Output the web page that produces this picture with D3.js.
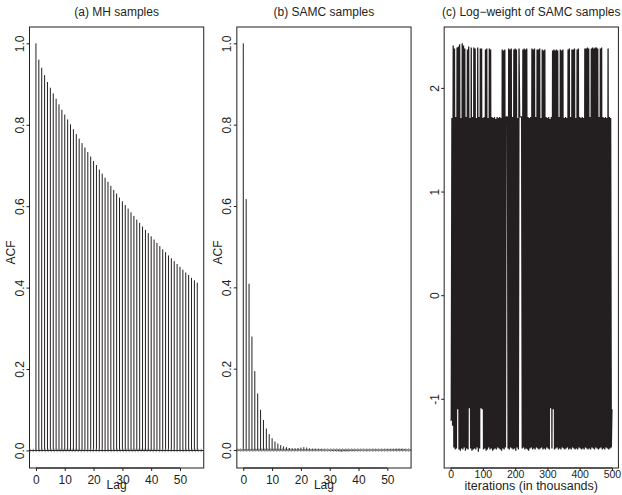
<!DOCTYPE html>
<html>
<head>
<meta charset="utf-8">
<script src="https://cdn.jsdelivr.net/npm/d3@7"></script>
<style>
  body { margin: 0; background: #fff; }
  svg { display: block; }
  text { font-family: "Liberation Sans", Arial, sans-serif; fill: #231f20; }
</style>
</head>
<body>
<svg id="chart" width="622" height="495"></svg>
<script>
// autocorrelations, lag 0..56
const mhAcf = [
  1.000, 0.960, 0.940, 0.922, 0.905, 0.891, 0.877, 0.864, 0.850, 0.837,
  0.825, 0.813, 0.801, 0.789, 0.777, 0.766, 0.755, 0.744, 0.733, 0.722,
  0.711, 0.701, 0.690, 0.680, 0.670, 0.660, 0.650, 0.640, 0.631, 0.621,
  0.612, 0.603, 0.594, 0.585, 0.576, 0.567, 0.559, 0.550, 0.542, 0.534,
  0.526, 0.518, 0.510, 0.502, 0.494, 0.487, 0.479, 0.472, 0.465, 0.458,
  0.451, 0.444, 0.437, 0.431, 0.424, 0.418, 0.412
];
const samcAcf = [
  1.000, 0.617, 0.409, 0.279, 0.194, 0.139, 0.099, 0.074, 0.053, 0.039,
  0.029, 0.021, 0.016, 0.012, 0.009, 0.007, 0.005, 0.004, 0.004, 0.005,
  0.006, 0.007, 0.006, 0.004, 0.003, 0.003, 0.002, 0.002, 0.001, 0.000,
  -0.001, -0.002, -0.002, -0.003, -0.004, -0.003, -0.003, -0.002, -0.002, -0.001,
  -0.001, 0.000, 0.000, -0.001, 0.000, 0.001, 0.001, 0.000, 0.001, 0.001,
  0.002, 0.002, 0.002, 0.003, 0.003, 0.003, 0.002
];
const ciLevel = 0.003;

// log-weight trace, one value every 2 thousand iterations (0..500)
const iterStep = 2;
const logWeight = [
  -1.21, -1.20, 1.71, -1.26, 2.41, -1.47, 2.38, -1.49, 1.72, -1.48,
  2.39, -1.10, 2.40, -1.49, 2.42, -1.50, 1.71, -1.48, 2.43, -1.49,
  2.41, -1.47, 2.38, -1.50, 1.72, -1.48, 2.37, -1.49, 2.40, -1.09,
  1.71, -1.48, 2.39, -1.50, 1.72, -1.49, 2.39, -1.48, 2.38, -1.49,
  1.71, -1.47, 2.39, -1.51, 1.72, -1.48, 2.38, -1.09, 2.38, -1.10,
  1.71, -1.49, 1.72, -1.48, 2.37, -1.50, 2.38, -1.49, 1.71, -1.47,
  2.38, -1.49, 2.37, -1.48, 1.72, -1.50, 1.71, -1.49, 1.72, -1.48,
  1.70, -1.49, 1.72, -1.47, 1.71, -1.48, 1.72, -1.49, 1.71, -1.50,
  2.37, -1.48, 2.36, -1.49, 2.37, -1.47, 1.72, 1.72, 1.72, -1.48,
  2.38, -1.49, 2.37, -1.47, 2.38, -1.48, 1.72, -1.49, 2.37, -1.48,
  2.38, -1.50, 2.37, -1.47, 1.71, -1.49, 2.38, 1.72, 1.72, 1.72,
  1.72, -1.48, 2.37, -1.47, 2.38, -1.49, 2.37, -1.48, 2.38, -1.49,
  1.72, -1.50, 1.71, -1.48, 1.72, -1.47, 2.38, -1.49, 2.37, -1.48,
  2.38, -1.49, 1.72, -1.47, 2.37, -1.48, 2.37, -1.49, 2.38, -1.48,
  1.71, -1.47, 2.37, -1.49, 2.36, -1.48, 2.37, -1.49, 1.72, -1.47,
  1.71, -1.48, 1.72, -1.49, 1.70, -1.09, 1.72, -1.48, 2.36, -1.10,
  2.37, -1.49, 2.36, -1.48, 2.37, -1.47, 2.36, -1.49, 1.72, -1.48,
  2.37, -1.49, 2.36, -1.47, 2.37, -1.48, 1.71, -1.49, 1.72, -1.48,
  1.71, -1.47, 2.37, -1.49, 2.38, -1.48, 1.72, -1.49, 2.37, -1.47,
  2.37, -1.48, 2.38, -1.49, 1.71, -1.48, 2.37, -1.49, 2.38, -1.47,
  1.72, -1.48, 1.71, -1.49, 1.72, -1.48, 1.71, -1.49, 2.38, -1.47,
  2.38, -1.48, 2.39, -1.49, 2.38, -1.48, 1.72, -1.49, 2.38, -1.47,
  2.39, -1.48, 2.38, -1.49, 2.39, -1.47, 2.39, -1.48, 2.38, -1.49,
  1.72, -1.48, 2.38, -1.47, 2.39, -1.49, 1.72, -1.48, 1.71, -1.49,
  1.72, -1.47, 1.71, -1.48, 2.38, -1.49, 1.72, -1.48, 1.71, -1.47,
  -1.10
];

const titles = ["(a) MH samples", "(b) SAMC samples", "(c) Log\u2212weight of SAMC samples"];
const acfTicks = [0, 0.2, 0.4, 0.6, 0.8, 1.0];
const lagTicks = [0, 10, 20, 30, 40, 50];
const wTicks = [-1, 0, 1, 2];
const iterTicks = [0, 100, 200, 300, 400, 500];

const W = 622, H = 495, panelW = W / 3;
const m = { left: 29.5, right: 3.6, top: 27, bottom: 27 };
const ink = "#231f20";
const svg = d3.select("#chart");

// R style: range widened by 4% each side
function pad(ext) {
  const d = (ext[1] - ext[0]) * 0.04;
  return [ext[0] - d, ext[1] + d];
}

function frame(i, x, y, opt) {
  const g = svg.append("g").attr("transform", `translate(${i * panelW},0)`);
  const left = m.left, right = panelW - m.right, top = m.top, bottom = H - m.bottom;

  g.append("rect")
      .attr("x", left).attr("y", top)
      .attr("width", right - left).attr("height", bottom - top)
      .attr("fill", "none").attr("stroke", ink).attr("stroke-width", 1);

  const xt = opt.xTicks;
  g.append("g")
      .attr("transform", `translate(0,${bottom})`)
      .call(d3.axisBottom(x).tickValues(xt).tickSize(3).tickPadding(opt.xPad).tickFormat(d3.format("d")))
      .call(a => a.select(".domain").attr("d", `M${x(xt[0])},0H${x(xt[xt.length - 1])}`).attr("stroke", ink))
      .call(a => a.selectAll(".tick line").attr("stroke", ink))
      .call(a => a.selectAll("text").attr("font-size", opt.xSize).attr("fill", ink));

  g.append("g")
      .attr("transform", `translate(${left},0)`)
      .call(d3.axisLeft(y).tickValues(opt.yTicks).tickSize(3).tickFormat(opt.yFmt))
      .call(a => a.select(".domain").remove())
      .call(a => a.selectAll(".tick line").attr("stroke", ink))
      .call(a => a.selectAll("text")
          .attr("font-size", 12).attr("fill", ink)
          .attr("x", 0).attr("y", -5.5).attr("dy", null)
          .attr("text-anchor", "middle")
          .attr("transform", "rotate(-90)"));

  g.append("text")
      .attr("x", (left + right) / 2).attr("y", 16)
      .attr("text-anchor", "middle").attr("font-size", 12)
      .text(titles[i]);

  g.append("text")
      .attr("x", (left + right) / 2).attr("y", opt.xLabelY)
      .attr("text-anchor", "middle").attr("font-size", opt.xLabelSize)
      .text(opt.xLabel);

  if (opt.yLabel) {
    g.append("text")
        .attr("transform", `translate(14.5,${(top + bottom) / 2 + 5}) rotate(-90)`)
        .attr("text-anchor", "middle").attr("font-size", 12)
        .text(opt.yLabel);
  }
  return g;
}

function acfPanel(i, acf) {
  const x = d3.scaleLinear().domain(pad([0, acf.length - 1])).range([m.left, panelW - m.right]);
  const ext = d3.extent(acf.concat([ciLevel, -ciLevel]));
  const y = d3.scaleLinear().domain(pad(ext)).range([H - m.bottom, m.top]);
  const g = frame(i, x, y, {
    xTicks: lagTicks, yTicks: acfTicks, yFmt: d3.format(".1f"),
    xPad: 4, xSize: 12, xLabel: "Lag", xLabelY: 489, xLabelSize: 12, yLabel: "ACF"
  });

  g.selectAll("line.bar")
    .data(acf)
    .join("line")
      .attr("class", "bar")
      .attr("x1", (d, k) => x(k)).attr("x2", (d, k) => x(k))
      .attr("y1", y(0)).attr("y2", d => y(d))
      .attr("stroke", ink).attr("stroke-width", 1);

  g.append("line")
      .attr("x1", m.left).attr("x2", panelW - m.right)
      .attr("y1", y(0)).attr("y2", y(0))
      .attr("stroke", ink).attr("stroke-width", 1);

  [ciLevel, -ciLevel].forEach(c => {
    g.append("line")
        .attr("x1", m.left).attr("x2", panelW - m.right)
        .attr("y1", y(c)).attr("y2", y(c))
        .attr("stroke", "#888").attr("stroke-width", 0.8)
        .attr("stroke-dasharray", "1.5,1.5");
  });
}

acfPanel(0, mhAcf);
acfPanel(1, samcAcf);

// panel (c): trace plot
{
  const n = logWeight.length;
  const x = d3.scaleLinear().domain(pad([0, (n - 1) * iterStep])).range([m.left, panelW - m.right]);
  const y = d3.scaleLinear().domain(pad(d3.extent(logWeight))).range([H - m.bottom, m.top]);
  const g = frame(2, x, y, {
    xTicks: iterTicks, yTicks: wTicks, yFmt: d => String(d),
    xPad: 0, xSize: 10.5, xLabel: "iterations (in thousands)", xLabelY: 490, xLabelSize: 12.5, yLabel: null
  });

  const line = d3.line()
      .x((d, k) => x(k * iterStep))
      .y(d => y(d));

  g.append("path")
      .attr("d", line(logWeight))
      .attr("fill", "none")
      .attr("stroke", ink)
      .attr("stroke-width", 1.3)
      .attr("stroke-linejoin", "bevel");
}
</script>
</body>
</html>
